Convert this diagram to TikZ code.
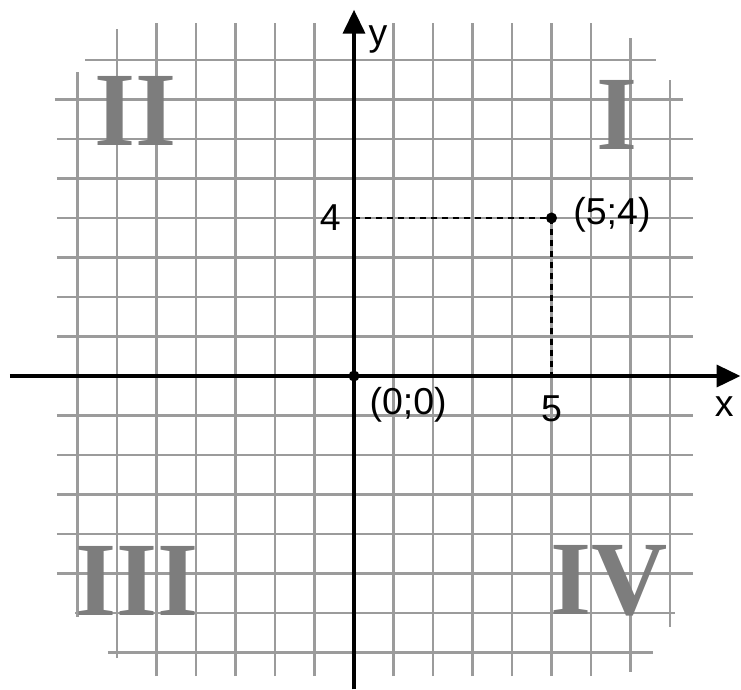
\documentclass[tikz,border=0pt]{standalone}
\usepackage{fontspec}
\setmainfont{Liberation Serif}
\newfontfamily\labfont{Liberation Sans}
\usetikzlibrary{arrows.meta}
\definecolor{gridgray}{RGB}{155,155,155}
\definecolor{romangray}{RGB}{125,125,125}
\tikzset{
  gridline/.style={draw=gridgray, line width=1.6pt},
  axisline/.style={draw=black, line width=2.2pt, -{Triangle[length=6mm,width=5.6mm]}},
  helpline/.style={draw=black, line width=1.9pt, dash pattern=on 4.3pt off 3.6pt},
  lab/.style={font=\labfont\fontsize{27}{30}\selectfont, inner sep=0pt},
  roman/.style={font=\bfseries\fontsize{76}{80}\selectfont, text=romangray, inner sep=0pt},
}
\begin{document}
\begin{tikzpicture}[x=1cm,y=1cm]
\useasboundingbox (-8.962,-7.924) rectangle (9.797,9.519);
% vertical grid lines
\foreach \x/\lo/\hi in {-7/-6.1/7.7, -6/-7.14/8.78, -5/-7.6/8.94, -4/-7.6/8.94, -3/-7.6/8.94,
  -2/-7.6/8.94, -1/-7.6/8.94, 1/-7.6/8.94, 2/-7.6/8.94, 3/-7.6/8.94, 4/-7.6/8.94,
  5/-7.6/8.94, 6/-7.6/8.94, 7/-7.49/8.56, 8/-6.35/7.49}
  \draw[gridline] (\x,\lo) -- (\x,\hi);
% horizontal grid lines
\foreach \y/\lo/\hi in {8/-6.81/7.65, 7/-7.57/8.33, 6/-7.52/8.58, 5/-7.52/8.58, 4/-7.52/8.58,
  3/-7.52/8.58, 2/-7.52/8.58, 1/-7.52/8.58, -1/-7.52/8.58, -2/-7.52/8.58, -3/-7.52/8.58,
  -4/-7.52/8.58, -5/-7.52/8.58, -6/-7.06/8.13, -7/-6.23/7.57}
  \draw[gridline] (\lo,\y) -- (\hi,\y);
% quadrant numerals
\node[roman] (q2) at (-5.52,6.71) {II};
\node[roman] (q1) at (6.66,6.62) {I};
\node[roman] (q3) at (-5.49,-5.19) {III};
\node[roman] (q4) at (6.46,-5.19) {IV};
% axes
\coordinate (xl) at (-8.71,0);
\coordinate (xr) at (9.78,0);
\coordinate (yb) at (0,-7.93);
\coordinate (yt) at (0,9.27);
\draw[axisline] (xl) -- (xr);
\draw[axisline] (yb) -- (yt);
% points
\coordinate (O) at (0,0);
\coordinate (P) at (5,4);
\coordinate (Py) at (0,4);
\coordinate (Px) at (5,0);
\draw[helpline] (Py) -- (P);
\draw[helpline] (P) -- (Px);
\fill (O) circle (0.14);
\fill (P) circle (0.14);
% labels
\node[lab] (ly) at (0.61,8.51) {y};
\node[lab] (lx) at (9.37,-0.78) {x};
\node[lab] (l4) at (-0.6,4.02) {4};
\node[lab] (l5) at (5.0,-0.82) {5};
\node[lab] (lO) at (1.37,-0.73) {(0;0)};
\node[lab] (lP) at (6.53,4.08) {(5;4)};
\end{tikzpicture}
\end{document}
